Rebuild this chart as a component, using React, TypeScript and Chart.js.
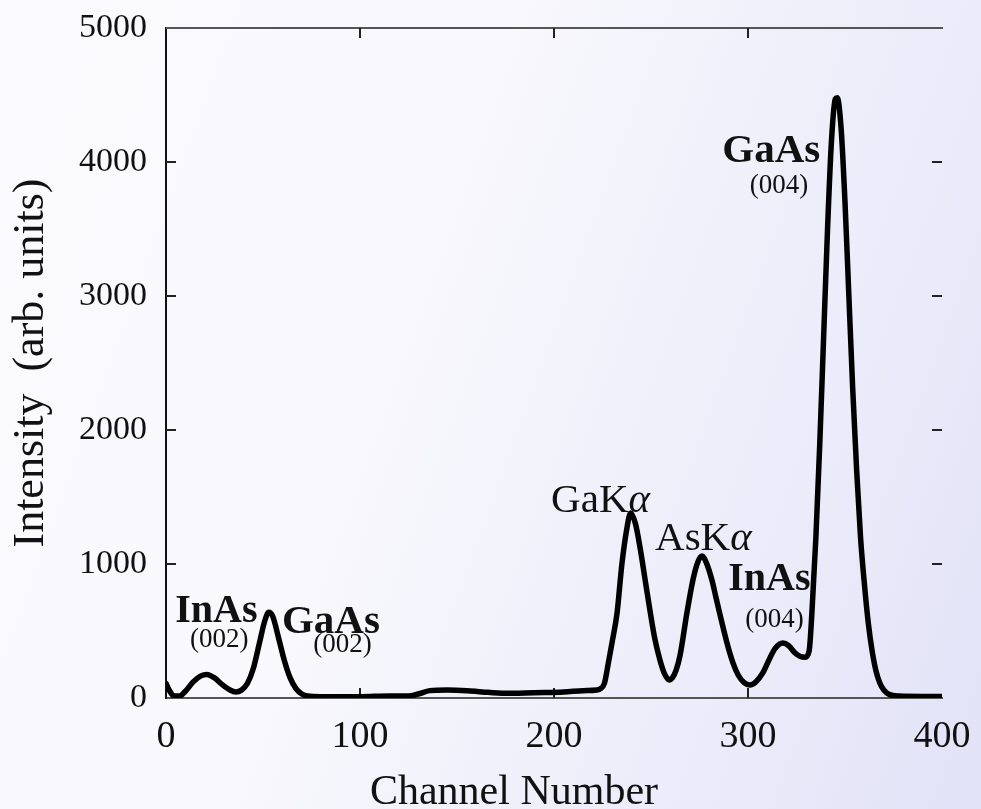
import React, { useEffect, useRef } from "react";
import { Chart, registerables } from "chart.js";

Chart.register(...registerables);

// ---- data ----
const channels = [
  0, 2, 4, 7, 10, 14, 18, 21, 25, 29, 33, 36, 39, 42, 45, 48, 51, 53, 55, 58,
  61, 64, 67, 70, 73, 80, 90, 100, 115, 125, 130, 136, 145, 155, 163, 175, 190,
  205, 215, 222, 224, 226, 228, 230, 232.5, 235, 237.5, 239.5, 242, 244.5, 247,
  249.5, 252, 254.5, 257, 259.5, 261, 263, 265, 268.5, 271.6, 274, 276.3,
  278.5, 281.4, 283.5, 285.6, 289, 292.3, 295, 298, 301, 304, 307.7, 311, 314,
  318, 321, 324, 327, 329.5, 331.5, 333, 335, 337, 339, 341, 343, 345, 346, 348,
  350, 352, 354, 356, 358, 360, 362, 364, 366, 368, 370, 373, 378, 390, 400,
];
const intensity = [
  110, 50, 15, 15, 50, 120, 165, 175, 150, 100, 60, 45, 60, 110, 220, 400, 580,
  640, 610, 450, 280, 150, 70, 30, 15, 10, 10, 10, 15, 15, 30, 55, 60, 55, 45, 35,
  40, 45, 55, 60, 70, 110, 260, 420, 634, 1000, 1260, 1380, 1300, 1110, 880, 650,
  440, 290, 180, 135, 150, 210, 320, 634, 880, 1010, 1060, 1010, 880, 750, 620,
  420, 260, 170, 115, 97, 120, 190, 290, 370, 410, 390, 340, 310, 305, 350, 650,
  1200, 1900, 2700, 3500, 4150, 4470, 4480, 4250, 3700, 3000, 2300, 1700, 1200,
  850, 560, 350, 200, 110, 60, 25, 15, 12, 12,
];

const xTickValues = [0, 100, 200, 300, 400];
const yTickValues = [0, 1000, 2000, 3000, 4000, 5000];

const xTitle = "Channel Number";
const yTitle = "Intensity  (arb. units)";

// annotation labels: anchor in data units (channel, intensity)
type Part = { t: string; italic?: boolean };
const annotations: { x: number; y: number; parts: Part[]; bold?: boolean; size: number }[] = [
  { x: 26, y: 567, parts: [{ t: "InAs" }], bold: true, size: 40 },
  { x: 27.5, y: 381, parts: [{ t: "(002)" }], size: 27 },
  { x: 85, y: 485, parts: [{ t: "GaAs" }], bold: true, size: 41 },
  { x: 91, y: 343, parts: [{ t: "(002)" }], size: 27 },
  { x: 224, y: 1388, parts: [{ t: "GaK" }, { t: "α", italic: true }], size: 41 },
  { x: 277, y: 1104, parts: [{ t: "AsK" }, { t: "α", italic: true }], size: 41 },
  { x: 311, y: 806, parts: [{ t: "InAs" }], bold: true, size: 40 },
  { x: 313.7, y: 530, parts: [{ t: "(004)" }], size: 27 },
  { x: 312, y: 4000, parts: [{ t: "GaAs" }], bold: true, size: 41 },
  { x: 316, y: 3769, parts: [{ t: "(004)" }], size: 27 },
];

const FONT = '"Liberation Serif", "Times New Roman", Times, serif';
const INK = "#111";

const fontStr = (size: number, bold?: boolean, italic?: boolean) =>
  `${italic ? "italic " : ""}${bold ? "bold " : ""}${size}px ${FONT}`;

const decorPlugin = {
  id: "decor",
  beforeDatasetsDraw(chart: any) {
    const { ctx, chartArea: a, scales } = chart;
    const xs = scales.x;
    const ys = scales.y;
    ctx.save();
    // top frame line
    ctx.strokeStyle = "#555";
    ctx.lineWidth = 2;
    ctx.beginPath();
    ctx.moveTo(a.left, a.top);
    ctx.lineTo(a.right + 1, a.top);
    ctx.stroke();
    // inward ticks
    ctx.strokeStyle = "#222";
    ctx.lineWidth = 2;
    yTickValues.forEach((v) => {
      if (v === 0 || v === 5000) return;
      const py = ys.getPixelForValue(v);
      ctx.beginPath();
      ctx.moveTo(a.left, py);
      ctx.lineTo(a.left + 10, py);
      ctx.moveTo(a.right - 10, py);
      ctx.lineTo(a.right, py);
      ctx.stroke();
    });
    xTickValues.forEach((v) => {
      if (v === 0 || v === 400) return;
      const px = xs.getPixelForValue(v);
      ctx.beginPath();
      ctx.moveTo(px, a.bottom);
      ctx.lineTo(px, a.bottom - 10);
      ctx.moveTo(px, a.top);
      ctx.lineTo(px, a.top + 10);
      ctx.stroke();
    });
    // annotations
    ctx.fillStyle = INK;
    ctx.textBaseline = "alphabetic";
    ctx.textAlign = "left";
    annotations.forEach((an) => {
      const widths = an.parts.map((p) => {
        ctx.font = fontStr(an.size, an.bold, p.italic);
        return ctx.measureText(p.t).width;
      });
      const total = widths.reduce((s, w) => s + w, 0);
      let cx = xs.getPixelForValue(an.x) - total / 2;
      const cy = ys.getPixelForValue(an.y);
      an.parts.forEach((p, i) => {
        ctx.font = fontStr(an.size, an.bold, p.italic);
        ctx.fillText(p.t, cx, cy);
        cx += widths[i];
      });
    });
    ctx.restore();
  },
  afterDraw(chart: any) {
    const { ctx, chartArea: a } = chart;
    ctx.save();
    ctx.fillStyle = INK;
    ctx.font = fontStr(42);
    ctx.textAlign = "center";
    ctx.textBaseline = "alphabetic";
    ctx.fillText(xTitle, (a.left + a.right) / 2 - 40, a.bottom + 106);
    ctx.restore();
  },
};

export default function App() {
  const ref = useRef<HTMLCanvasElement | null>(null);

  useEffect(() => {
    if (!ref.current) return;
    const points = channels.map((c, i) => ({ x: c, y: intensity[i] }));
    const chart = new Chart(ref.current, {
      type: "line",
      data: {
        datasets: [
          {
            data: points,
            borderColor: "#000",
            borderWidth: 5.5,
            pointRadius: 0,
            fill: false,
            cubicInterpolationMode: "monotone",
            borderCapStyle: "round",
            borderJoinStyle: "round",
          },
        ],
      },
      options: {
        responsive: false,
        animation: false,
        maintainAspectRatio: false,
        layout: { padding: { top: 28, right: 39, left: 0, bottom: 0 } },
        plugins: { legend: { display: false }, tooltip: { enabled: false } },
        scales: {
          x: {
            type: "linear",
            min: 0,
            max: 400,
            afterBuildTicks: (s: any) => {
              s.ticks = xTickValues.map((v) => ({ value: v }));
            },
            ticks: {
              font: { family: FONT, size: 38 },
              color: INK,
              padding: 16,
              maxRotation: 0,
            },
            grid: { display: false, drawTicks: false },
            border: { display: true, color: "#555", width: 2 },
            afterFit: (s: any) => {
              s.height = 111;
              s.paddingLeft = 0;
              s.paddingRight = 0;
            },
          },
          y: {
            type: "linear",
            min: 0,
            max: 5000,
            afterBuildTicks: (s: any) => {
              s.ticks = yTickValues.map((v) => ({ value: v }));
            },
            ticks: {
              font: { family: FONT, size: 34 },
              color: INK,
              padding: 19,
              callback: (v: any) => String(v),
            },
            grid: { display: false, drawTicks: false },
            border: { display: true, color: "#111", width: 2 },
            title: {
              display: true,
              text: yTitle,
              font: { family: FONT, size: 44 },
              color: INK,
              padding: { top: 5, bottom: 0 },
            },
            afterFit: (s: any) => {
              s.width = 166;
              s.paddingTop = 0;
              s.paddingBottom = 0;
            },
          },
        },
      },
      plugins: [decorPlugin],
    });
    return () => chart.destroy();
  }, []);

  return (
    <div
      style={{
        position: "absolute",
        left: 0,
        top: 0,
        width: 981,
        height: 809,
        background:
          "linear-gradient(110deg, #fbfbfe 0%, #f8f8fd 40%, #ececfa 75%, #e2e2f8 100%)",
      }}
    >
      <canvas ref={ref} width={981} height={809} style={{ display: "block" }} />
    </div>
  );
}
